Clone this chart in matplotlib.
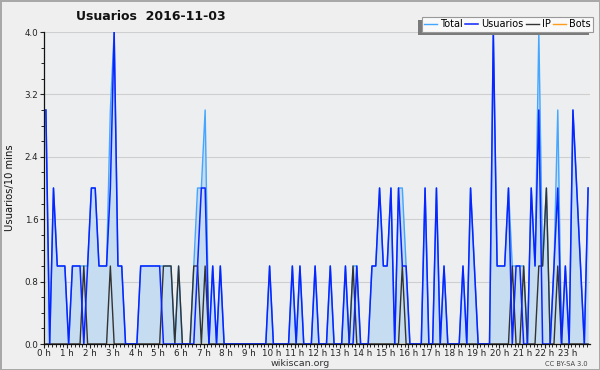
import matplotlib
matplotlib.use('Agg')
import matplotlib.pyplot as plt
from matplotlib.patches import Rectangle
from matplotlib.ticker import MultipleLocator

# 10-minute slots, one row per hour (6 values)
usuarios = [3, 0, 2, 1, 1, 1,  0, 1, 1, 1, 0, 1,  2, 2, 1, 1, 1, 2,  4, 1, 1, 0, 0, 0,
            0, 1, 1, 1, 1, 1,  1, 0, 0, 0, 0, 0,  0, 0, 0, 0, 1, 2,  2, 0, 1, 0, 1, 0,
            0, 0, 0, 0, 0, 0,  0, 0, 0, 0, 0, 1,  0, 0, 0, 0, 0, 1,  0, 1, 0, 0, 0, 1,
            0, 0, 0, 1, 0, 0,  0, 1, 0, 0, 1, 0,  0, 0, 1, 1, 2, 1,  1, 2, 0, 2, 1, 1,
            0, 0, 0, 0, 2, 0,  0, 2, 0, 1, 0, 0,  0, 0, 1, 0, 2, 1,  0, 0, 0, 0, 4, 1,
            1, 1, 2, 0, 1, 1,  0, 0, 2, 1, 3, 0,  0, 0, 1, 2, 0, 1,  0, 3, 2, 1, 0, 2]
ip =       [0, 0, 0, 0, 0, 0,  0, 0, 0, 0, 1, 0,  0, 0, 0, 0, 0, 1,  0, 0, 0, 0, 0, 0,
            0, 0, 0, 0, 0, 0,  0, 1, 1, 1, 0, 1,  0, 0, 0, 1, 1, 0,  1, 0, 0, 0, 0, 0,
            0, 0, 0, 0, 0, 0,  0, 0, 0, 0, 0, 0,  0, 0, 0, 0, 0, 0,  0, 0, 0, 0, 0, 0,
            0, 0, 0, 0, 0, 0,  0, 0, 0, 1, 0, 0,  0, 0, 0, 0, 0, 0,  0, 0, 0, 0, 1, 0,
            0, 0, 0, 0, 0, 0,  0, 0, 0, 0, 0, 0,  0, 0, 0, 0, 0, 0,  0, 0, 0, 0, 0, 0,
            0, 0, 0, 1, 0, 0,  1, 0, 0, 0, 1, 1,  2, 0, 0, 1, 0, 0,  0, 0, 0, 0, 0, 0]
bots =     [0, 0, 0, 0, 0, 0,  0, 0, 0, 0, 0, 0,  0, 0, 0, 0, 0, 0,  0, 0, 0, 0, 0, 0,
            0, 0, 0, 0, 0, 0,  0, 0, 0, 0, 0, 0,  0, 0, 0, 0, 0, 0,  0, 0, 0, 0, 0, 0,
            0, 0, 0, 0, 0, 0,  0, 0, 0, 0, 0, 0,  0, 0, 0, 0, 0, 0,  0, 0, 0, 0, 0, 0,
            0, 0, 0, 0, 0, 0,  0, 0, 0, 0, 0, 0,  0, 0, 0, 0, 0, 0,  0, 0, 0, 0, 0, 0,
            0, 0, 0, 0, 0, 0,  0, 0, 0, 0, 0, 0,  0, 0, 0, 0, 0, 0,  0, 0, 0, 0, 0, 0,
            0, 0, 0, 0, 0, 0,  0, 0, 0, 0, 0, 0,  0, 0, 0, 0, 0, 0,  0, 0, 0, 0, 0, 0]
total =    [3, 0, 2, 1, 1, 1,  0, 1, 1, 1, 1, 1,  2, 2, 1, 1, 1, 3,  4, 1, 1, 0, 0, 0,
            0, 1, 1, 1, 1, 1,  1, 1, 1, 1, 0, 1,  0, 0, 0, 1, 2, 2,  3, 0, 1, 0, 1, 0,
            0, 0, 0, 0, 0, 0,  0, 0, 0, 0, 0, 1,  0, 0, 0, 0, 0, 1,  0, 1, 0, 0, 0, 1,
            0, 0, 0, 1, 0, 0,  0, 1, 0, 1, 1, 0,  0, 0, 1, 1, 2, 1,  1, 2, 0, 2, 2, 1,
            0, 0, 0, 0, 2, 0,  0, 2, 0, 1, 0, 0,  0, 0, 1, 0, 2, 1,  0, 0, 0, 0, 4, 1,
            1, 1, 2, 1, 1, 1,  1, 0, 2, 1, 4, 1,  2, 0, 1, 3, 0, 1,  0, 3, 2, 1, 0, 2]
hour_labels = [f'{h} h' for h in range(24)]
y_ticks = [0.0, 0.8, 1.6, 2.4, 3.2, 4.0]

x = range(len(total))

fig = plt.figure(figsize=(6, 3.7), dpi=100, facecolor='#efefef')
fig.patch.set_edgecolor('#a8a8a8')
fig.patch.set_linewidth(2)
ax = fig.add_axes([44/600, 26/370, 546/600, 312/370], facecolor='#eceef0')

ax.fill_between(x, total, color='#c6dcf0', lw=0, zorder=1)
l_bots, = ax.plot(x, bots, color='#ff9a1a', lw=1, zorder=2)
l_total, = ax.plot(x, total, color='#44a6ff', lw=1, zorder=3)
l_ip, = ax.plot(x, ip, color='#333333', lw=1, zorder=4)
l_usr, = ax.plot(x, usuarios, color='#0a24ff', lw=1.1, zorder=5)

ax.set_xlim(-0.5, 143.5)
ax.set_ylim(0, 4.0)
ax.set_xticks([6*h - 0.4 for h in range(24)])
ax.set_xticklabels(hour_labels)
ax.set_xticks([i - 0.4 for i in range(144)], minor=True)
ax.set_yticks(y_ticks)
ax.set_yticklabels([f'{v:.1f}' for v in y_ticks])
ax.yaxis.set_minor_locator(MultipleLocator(0.2))
ax.tick_params(which='major', length=3, width=0.8, labelsize=6.3, pad=1, colors='#222222')
ax.tick_params(which='minor', length=2.5, width=0.7, colors='#222222')
ax.tick_params(axis='x', which='major', pad=0.5)
ax.grid(axis='y', which='major', color='#cfcfcf', lw=0.8, zorder=0)
ax.set_axisbelow(True)
for s in ['top', 'right']:
    ax.spines[s].set_visible(False)
for s in ['left', 'bottom']:
    ax.spines[s].set_color('#111111')
    ax.spines[s].set_linewidth(0.9)
    ax.spines[s].set_zorder(6)

fig.text(151/600, 1 - 17/370, 'Usuarios  2016-11-03', ha='center', va='center',
         fontsize=9, fontweight='bold', color='#111111')
fig.text(10/600, 1 - 188/370, 'Usuarios/10 mins', rotation=90, ha='center',
         va='center', fontsize=7.2, color='#111111')
fig.text(300/600, 1 - 363.5/370, 'wikiscan.org', ha='center', va='center',
         fontsize=6.8, color='#333333')
fig.text(566/600, 1 - 363.5/370, 'CC BY-SA 3.0', ha='center', va='center',
         fontsize=4.8, color='#444444')

leg = fig.legend([l_total, l_usr, l_ip, l_bots], ['Total', 'Usuarios', 'IP', 'Bots'],
                 ncol=4, loc='upper right', bbox_to_anchor=(593/600, 1 - 17/370),
                 frameon=True, fancybox=False, fontsize=7, handlelength=1.3,
                 handletextpad=0.3, columnspacing=0.3, borderpad=0.25,
                 borderaxespad=0, edgecolor='#999999', facecolor='#f9f9f9', framealpha=1)
leg.get_frame().set_linewidth(0.8)

fig.canvas.draw()
bb = leg.get_window_extent()
fig.add_artist(Rectangle((bb.x0 - 4, bb.y0 - 3), bb.width, bb.height, transform=None,
                         facecolor='#7a7a7a', edgecolor='none', zorder=4))

fig.savefig('out.png', dpi=100, facecolor=fig.get_facecolor(), edgecolor=fig.patch.get_edgecolor())
